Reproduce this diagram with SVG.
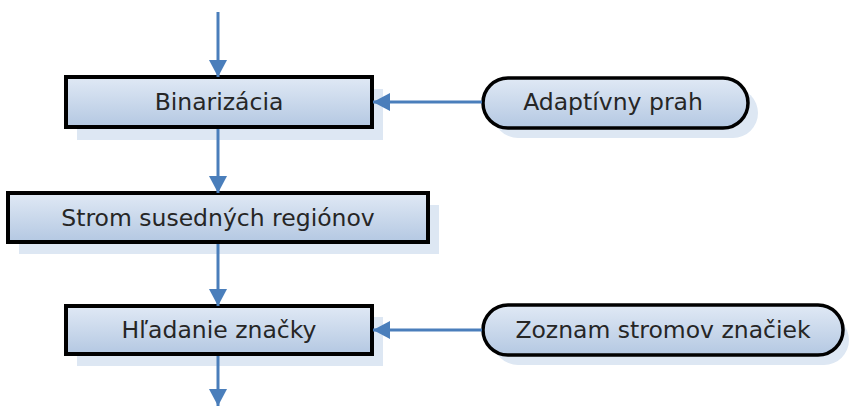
<svg xmlns="http://www.w3.org/2000/svg" width="849" height="407" viewBox="0 0 849 407">
<style>
.box{fill:url(#g);stroke:#000;stroke-width:4}
.term{fill:url(#g);stroke:#000;stroke-width:3.5}
.sh{fill:#dde7f3}
.lbl{font-family:"DejaVu Sans",Verdana,sans-serif;font-size:23.5px;fill:#262626;text-anchor:middle}
.con{stroke:#4a7ebb;stroke-width:3;fill:none}
</style>
<defs>
<linearGradient id="g" x1="0" y1="0" x2="0" y2="1">
<stop offset="0" stop-color="#e0e9f5"/>
<stop offset="1" stop-color="#b4c8e2"/>
</linearGradient>
<marker id="ah" viewBox="0 0 17 18" refX="17" refY="9" markerWidth="17" markerHeight="18" markerUnits="userSpaceOnUse" orient="auto">
<path d="M0,0 L17,9 L0,18 z" fill="#4a7ebb"/>
</marker>
</defs>
<g id="binarizacia">
<rect class="sh" x="77" y="89" width="306" height="51"/>
<rect class="box" x="66" y="77" width="306" height="50"/>
<text class="lbl" x="219" y="110">Binarizácia</text>
</g>
<g id="strom">
<rect class="sh" x="19" y="205" width="420" height="49"/>
<rect class="box" x="8" y="193" width="420" height="49"/>
<text class="lbl" x="218" y="226">Strom susedných regiónov</text>
</g>
<g id="hladanie">
<rect class="sh" x="77" y="317" width="306" height="49"/>
<rect class="box" x="66" y="306" width="306" height="48"/>
<text class="lbl" x="219" y="338">Hľadanie značky</text>
</g>
<g id="adaptivny">
<rect class="sh" x="493" y="88" width="265" height="50" rx="25"/>
<rect class="term" x="483" y="78" width="265" height="50" rx="25"/>
<text class="lbl" x="613" y="110">Adaptívny prah</text>
</g>
<g id="zoznam">
<rect class="sh" x="493" y="315" width="356" height="50" rx="25"/>
<rect class="term" x="483" y="305" width="360" height="50" rx="25"/>
<text class="lbl" x="663" y="338">Zoznam stromov značiek</text>
</g>
<g id="connectors">
<line class="con" x1="218" y1="12" x2="218" y2="77" marker-end="url(#ah)"/>
<line class="con" x1="218" y1="129" x2="218" y2="193" marker-end="url(#ah)"/>
<line class="con" x1="218" y1="244" x2="218" y2="306" marker-end="url(#ah)"/>
<line class="con" x1="218" y1="356" x2="218" y2="406" marker-end="url(#ah)"/>
<line class="con" x1="482" y1="102" x2="373" y2="102" marker-end="url(#ah)"/>
<line class="con" x1="482" y1="330" x2="373" y2="330" marker-end="url(#ah)"/>
</g>
</svg>
